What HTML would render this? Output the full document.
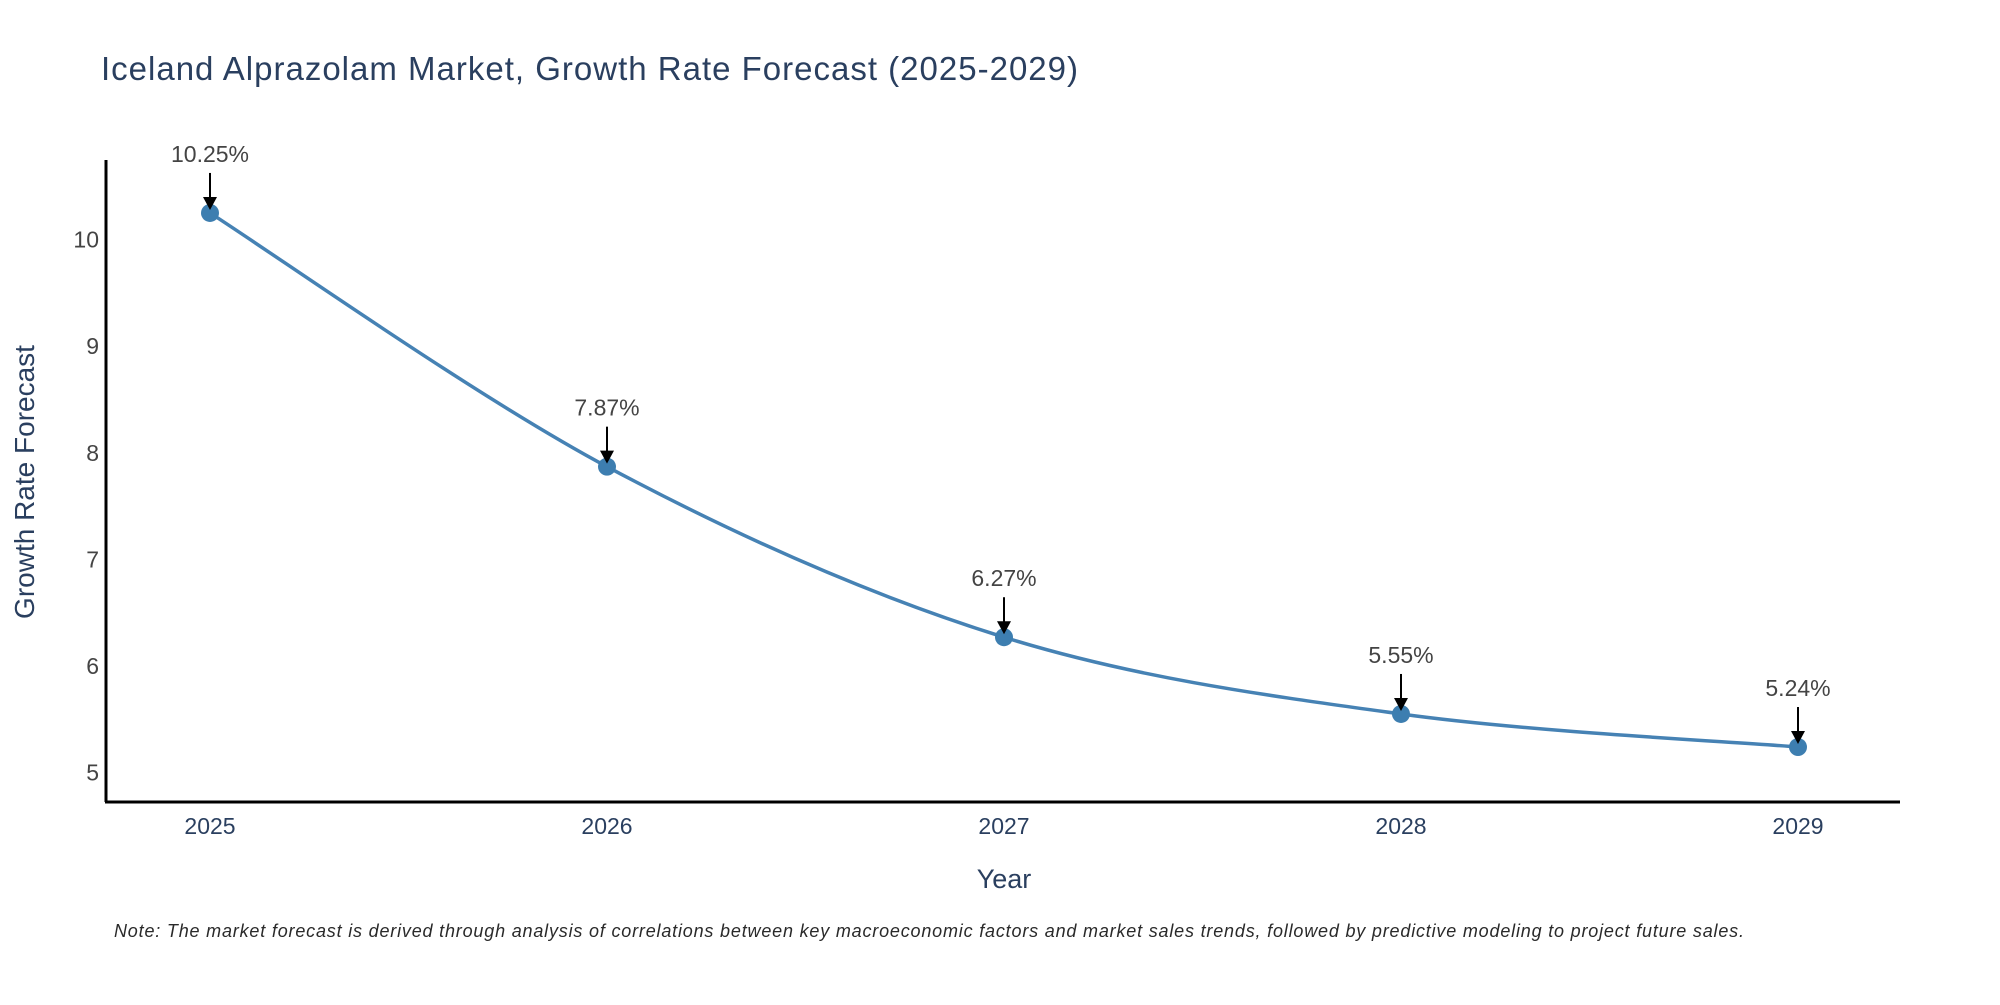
<!DOCTYPE html>
<html><head><meta charset="utf-8"><style>
body{margin:0;background:#fff;}
svg text{font-family:"Liberation Sans",sans-serif;}
</style></head><body>
<svg id="chart" width="2000" height="1000" xmlns="http://www.w3.org/2000/svg">
<text x="101" y="80" font-size="33" fill="#2a3f5f" textLength="977">Iceland Alprazolam Market, Growth Rate Forecast (2025-2029)</text>
<g id="yticks"></g>
<g id="xticks"></g>
<path id="line" fill="none" stroke="#4682b4" stroke-width="3.5"/>
<g id="points"></g>
<g id="annots"></g>
<line x1="106" y1="160" x2="106" y2="802" stroke="#000" stroke-width="3"/>
<line x1="105" y1="802" x2="1900" y2="802" stroke="#000" stroke-width="3"/>
<text x="1004" y="888" font-size="27" fill="#2a3f5f" text-anchor="middle">Year</text>
<text x="0" y="0" font-size="28" fill="#2a3f5f" text-anchor="middle" transform="translate(34,482) rotate(-90)">Growth Rate Forecast</text>
<text x="114" y="937" font-size="18" font-style="italic" fill="#2a2a2a" textLength="1630">Note: The market forecast is derived through analysis of correlations between key macroeconomic factors and market sales trends, followed by predictive modeling to project future sales.</text>
</svg>
<script>
const years = [2025, 2026, 2027, 2028, 2029];
const values = [10.25, 7.87, 6.27, 5.55, 5.24];
const labels = ["10.25%", "7.87%", "6.27%", "5.55%", "5.24%"];
const yTicks = [5, 6, 7, 8, 9, 10];

const NS = "http://www.w3.org/2000/svg";
function xs(i){ return 210 + (1798 - 210) * (i - 2025) / 4; }
function ys(v){ return 239.6 - (v - 10) * 106.6; }
function mk(tag, attrs, parent, text){
  const e = document.createElementNS(NS, tag);
  for (const k in attrs) e.setAttribute(k, attrs[k]);
  if (text !== undefined) e.textContent = text;
  parent.appendChild(e);
  return e;
}
const yt = document.getElementById('yticks');
yTicks.forEach(t => {
  const e = mk('text', {x: 99, y: ys(t) + 8, 'font-size': 23, fill: '#444', 'text-anchor': 'end'}, yt, String(t));
  
  
});
const xt = document.getElementById('xticks');
years.forEach(y => {
  const e = mk('text', {x: xs(y), y: 834, 'font-size': 23, fill: '#2a3f5f', 'text-anchor': 'middle'}, xt, String(y));
  
  
});
const P = years.map((y, i) => [xs(y), ys(values[i])]);
let d = `M${P[0][0]},${P[0][1]}`;
for (let i = 0; i < P.length - 1; i++) {
  const p0 = P[Math.max(0, i - 1)], p1 = P[i], p2 = P[i + 1], p3 = P[Math.min(P.length - 1, i + 2)];
  const c1 = [p1[0] + (p2[0] - p0[0]) / 6, p1[1] + (p2[1] - p0[1]) / 6];
  const c2 = [p2[0] - (p3[0] - p1[0]) / 6, p2[1] - (p3[1] - p1[1]) / 6];
  d += ` C${c1[0]},${c1[1]} ${c2[0]},${c2[1]} ${p2[0]},${p2[1]}`;
}
document.getElementById('line').setAttribute('d', d);
const pts = document.getElementById('points');
const an = document.getElementById('annots');
years.forEach((y, i) => {
  const cx = xs(y), cy = ys(values[i]);
  const c = mk('circle', {cx: cx, cy: cy, r: 9, fill: '#3d7eb0'}, pts);
  
  
  const l = mk('line', {x1: cx, y1: cy - 40, x2: cx, y2: cy - 14, stroke: '#000', 'stroke-width': 2}, an);
  
  
  const h = mk('polygon', {points: `${cx-7},${cy-16} ${cx+7},${cy-16} ${cx},${cy-3}`, fill: '#000'}, an);
  
  
  const tx = mk('text', {x: cx, y: cy - 51, 'font-size': 23, fill: '#444', 'text-anchor': 'middle'}, an, labels[i]);
  
  
});
</script>
</body></html>
